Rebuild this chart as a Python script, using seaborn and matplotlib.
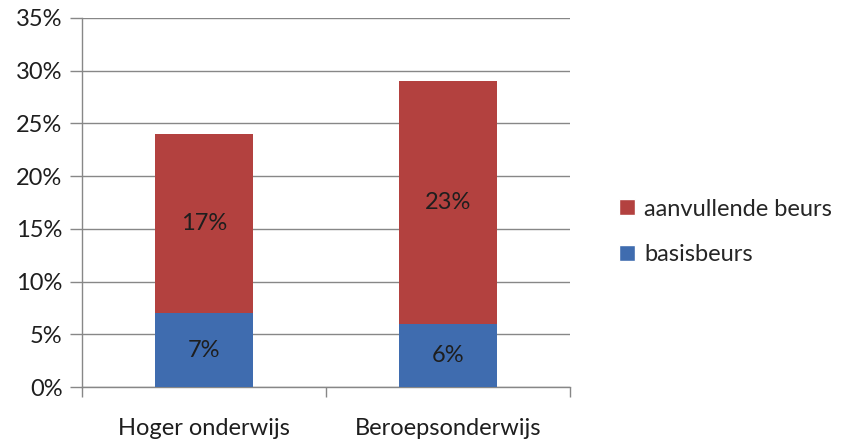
import matplotlib
matplotlib.use("Agg")
import matplotlib.pyplot as plt
from matplotlib.patches import Patch
from matplotlib.ticker import FixedLocator
import seaborn as sns
import pandas as pd

# data
categories = ["Hoger onderwijs", "Beroepsonderwijs"]
basisbeurs = [7, 6]
aanvullende_beurs = [17, 23]
y_ticks = [0, 5, 10, 15, 20, 25, 30, 35]

red = "#B3413F"
blue = "#3F6CAF"
grid_col = "#878787"
txt_col = "#1e1e1e"

sns.set_theme(style="white")
plt.rcParams["font.family"] = ["Lato", "DejaVu Sans"]

df = pd.DataFrame({
    "category": categories,
    "basis": basisbeurs,
    "aanvullend": aanvullende_beurs,
})
df["total"] = df["basis"] + df["aanvullend"]

fig = plt.figure(figsize=(8.43, 4.41), dpi=100)
ax = fig.add_axes([82 / 843, 54 / 441, 488 / 843, 369 / 441])

# stacked: total in red, basis drawn on top in blue
sns.barplot(data=df, x="category", y="total", color=red, width=0.4,
            saturation=1, ax=ax, zorder=3, edgecolor="none", linewidth=0)
sns.barplot(data=df, x="category", y="basis", color=blue, width=0.4,
            saturation=1, ax=ax, zorder=4, edgecolor="none", linewidth=0)

for i, row in df.iterrows():
    ax.text(i, row["basis"] / 2, f"{row['basis']}%", ha="center", va="center",
            fontsize=17, color=txt_col, zorder=5)
    ax.text(i, row["basis"] + row["aanvullend"] / 2, f"{row['aanvullend']}%",
            ha="center", va="center", fontsize=17, color=txt_col, zorder=5)

ax.set_xlim(-0.5, 1.5)
ax.set_ylim(0, 35)
ax.set_yticks(y_ticks)
ax.set_yticklabels([f"{t}%" for t in y_ticks], fontsize=17, color=txt_col)
ax.yaxis.grid(True, color=grid_col, linewidth=1, zorder=0)
ax.set_axisbelow(True)

ax.set_xlabel("")
ax.set_ylabel("")
ax.tick_params(axis="x", which="major", length=0, pad=22, labelsize=17,
               labelcolor=txt_col)
ax.xaxis.set_minor_locator(FixedLocator([-0.5, 0.5, 1.5]))
ax.tick_params(axis="x", which="minor", length=7, width=1, color=grid_col,
               bottom=True, direction="out")
ax.tick_params(axis="y", length=9, width=1, color=grid_col, left=True,
               direction="out", pad=5)

for side in ["top", "right"]:
    ax.spines[side].set_visible(False)
for side in ["left", "bottom"]:
    ax.spines[side].set_color(grid_col)
    ax.spines[side].set_linewidth(1)

handles = [Patch(facecolor=red, label="aanvullende beurs"),
           Patch(facecolor=blue, label="basisbeurs")]
fig.legend(handles=handles, loc="center left", bbox_to_anchor=(598 / 843, 1 - 232 / 441),
           frameon=False, fontsize=17, handlelength=0.65, handleheight=0.65,
           handletextpad=0.4, labelspacing=1.05)

fig.savefig("out.png", dpi=100)
